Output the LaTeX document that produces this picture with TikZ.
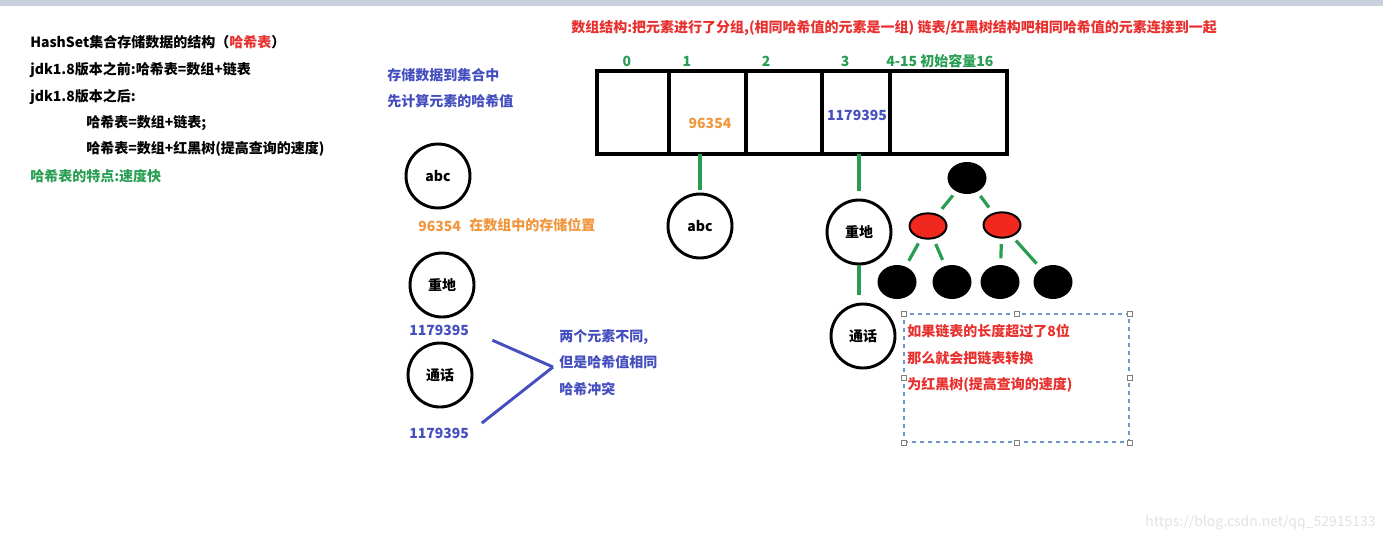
\documentclass[tikz,border=0pt]{standalone}
\usepackage{fontspec}
\setmainfont{Noto Sans CJK SC}
\usepackage{tikz}
\usetikzlibrary{shapes.geometric,positioning}
\definecolor{hred}{RGB}{232,48,46}
\definecolor{hgreen}{RGB}{40,158,82}
\definecolor{hblue}{RGB}{68,78,190}
\definecolor{horange}{RGB}{240,150,60}
\definecolor{tred}{RGB}{240,40,30}
\definecolor{selblue}{RGB}{110,150,200}
\definecolor{topbar}{RGB}{200,208,222}
\definecolor{wmark}{RGB}{226,226,226}

\begin{document}
\begin{tikzpicture}[x=0.75pt,y=-0.75pt,
  font=\fontsize{10.5}{20}\selectfont\bfseries,
  txt/.style={anchor=west, inner sep=0pt, align=left},
  cell/.style={draw, line width=2.6pt, outer sep=0pt, minimum height=62.25pt, inner sep=0pt},
  elem/.style={circle, draw, line width=2.2pt, minimum size=48pt, inner sep=0pt},
  idx/.style={text=hgreen, inner sep=0pt},
  gline/.style={draw=hgreen, line width=2.4pt},
  bline/.style={draw=hblue, line width=2.2pt},
  rb/.style={ellipse, draw, line width=1.5pt, minimum width=27.75pt, inner sep=0pt},
  handle/.style={draw=gray, fill=white, line width=0.6pt, minimum size=3.8pt, inner sep=0pt}
]
\useasboundingbox (0,0) rectangle (1383,543);
\fill[topbar] (0,0) rectangle (1383,6);
% ---- left notes
\node[txt] (n1) at (30,42) {HashSet集合存储数据的结构（\textcolor{hred}{哈希表}）};
\node[txt] (n2) at (30,70) {jdk1.8版本之前:哈希表=数组+链表};
\node[txt] (n3) at (30,97) {jdk1.8版本之后:};
\node[txt] (n4) at (86,123) {哈希表=数组+链表;};
\node[txt] (n5) at (86,149) {哈希表=数组+红黑树(提高查询的速度)};
\node[txt, text=hgreen] (n6) at (30,176) {哈希表的特点:速度快};
% ---- storing
\node[txt, text=hblue] (s1) at (387,75) {存储数据到集合中};
\node[txt, text=hblue] (s2) at (387,101) {先计算元素的哈希值};
\node[elem] (cAbc) at (438,176) {abc};
\node[txt, text=horange] (hv0) at (418,226) {96354};
\node[txt, text=horange] (pos) at (469,225) {在数组中的存储位置};
\node[elem] (cZd) at (442,285) {重地};
\node[txt, text=hblue] (hv1) at (409,330) {1179395};
\node[elem] (cTh) at (440,375) {通话};
\node[txt, text=hblue] (hv2) at (409,433) {1179395};
\coordinate (tip) at (553,367);
\draw[bline, shorten <=19pt] (hv1.east) -- (tip);
\draw[bline, shorten >=12pt] (tip) -- (hv2.east);
\node[txt, text=hblue, anchor=north west] (clash) at (559,329) {两个元素不同,\\但是哈希值相同\\哈希冲突};
% ---- array
\node[txt, text=hred] (title) at (571,28) {数组结构:把元素进行了分组,(相同哈希值的元素是一组) 链表/红黑树结构吧相同哈希值的元素连接到一起};
\node[cell, minimum width=54pt, anchor=west] (c0) at (597,112.5) {};
\node[cell, minimum width=57.75pt, right=0pt of c0] (c1) {};
\node[cell, minimum width=57pt, right=0pt of c1] (c2) {};
\node[cell, minimum width=51pt, right=0pt of c2] (c3) {};
\node[cell, minimum width=87.75pt, right=0pt of c3] (c4) {};
\node[idx] (i0) at (627,61) {0};
\node[idx] (i1) at (687,61) {1};
\node[idx] (i2) at (766,61) {2};
\node[idx] (i3) at (845,61) {3};
\node[idx, anchor=west] (i4) at (886,61) {4-15 初始容量16};
\node[text=horange, inner sep=0pt] (v1) at (710,123) {96354};
\node[text=hblue, inner sep=0pt] (v3) at (857,115) {1179395};
% ---- buckets
\node[elem] (aAbc) at (700,226) {abc};
\node[elem] (aZd) at (859,232) {重地};
\node[elem] (aTh) at (863,336) {通话};
\draw[gline, shorten >=2pt] (aAbc.north |- c1.south) -- (aAbc.north);
\draw[gline, shorten >=6pt] (aZd.north |- c3.south) -- (aZd.north);
\draw[gline, shorten >=6pt] (aZd.south) -- (aZd.south |- aTh.north);
% ---- red-black tree
\node[rb, fill=black, minimum height=22.5pt] (t0) at (967,178) {};
\node[rb, fill=tred, minimum height=19pt] (t1) at (928,226) {};
\node[rb, fill=tred, minimum height=19pt] (t2) at (1002,225) {};
\node[rb, fill=black, minimum height=24pt] (l1) at (897,282) {};
\node[rb, fill=black, minimum height=24pt] (l2) at (952,282) {};
\node[rb, fill=black, minimum height=24pt] (l3) at (1000,282) {};
\node[rb, fill=black, minimum height=24pt] (l4) at (1053,282) {};
\foreach \a/\b in {t0/t1, t0/t2, t1/l1, t1/l2, t2/l3, t2/l4}
  \draw[gline, shorten <=4pt, shorten >=5pt] (\a) -- (\b);
% ---- selected text box
\node[draw=selblue, dashed, line width=0.8pt, minimum width=168.75pt, minimum height=96pt] (sel) at (1016.5,378) {};
\foreach \a [count=\i] in {north west, north, north east, west, east, south west, south, south east}
  \node[handle] (hd\i) at (sel.\a) {};
\node[txt, text=hred, anchor=north west] (note) at (907,324) {如果链表的长度超过了8位\\那么就会把链表转换\\为红黑树(提高查询的速度)};
\node[anchor=east, inner sep=0pt, text=wmark, font=\fontsize{10.5}{12}\selectfont] (wm) at (1376,523) {https://blog.csdn.net/qq\_52915133};
\end{tikzpicture}
\end{document}
